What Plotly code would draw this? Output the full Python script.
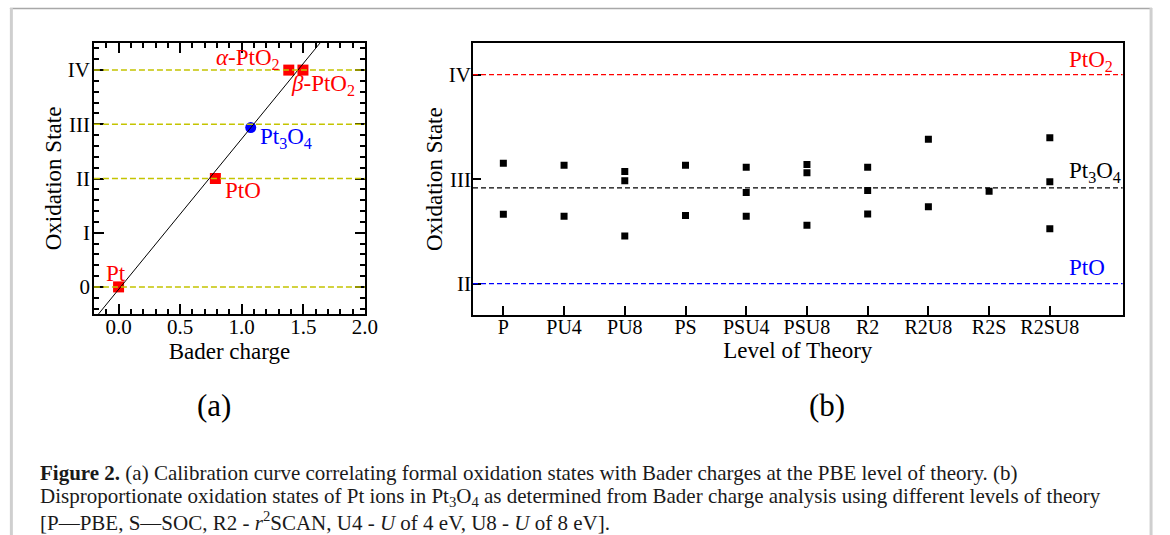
import plotly.graph_objects as go

W, H = 1170, 535
SERIF = "Liberation Serif, Times New Roman, serif"

# ---------------- data: panel (a) ----------------
ref_names = ["Pt", "PtO", "α-PtO2", "β-PtO2"]
ref_bader = [0.0, 0.786, 1.382, 1.497]
ref_ox = [0, 2, 4, 4]
pt3o4_bader = [1.073]
pt3o4_ox = [2.94]
fit_x = [-0.2, 1.7]
fit_y = [-0.603, 4.679]
ref_levels = [0, 2, 3, 4]
ox_ticks = [0, 1, 2, 3, 4]
ox_labels = ["0", "I", "II", "III", "IV"]

# ---------------- data: panel (b) ----------------
theory_levels = ["P", "PU4", "PU8", "PS", "PSU4", "PSU8", "R2", "R2U8", "R2S", "R2SU8"]
pt_ion_states = [
    [3.153, 2.663],
    [3.134, 2.644],
    [3.074, 2.985, 2.456],
    [3.134, 2.653],
    [3.115, 2.873, 2.644],
    [3.140, 3.061, 2.558],
    [3.115, 2.892, 2.666],
    [3.382, 2.736],
    [2.885],
    [3.395, 2.975, 2.526],
]
b_levels = [4.0, 2.917, 2.0]
b_level_names = ["PtO<sub>2</sub>", "Pt<sub>3</sub>O<sub>4</sub>", "PtO"]
b_level_colors = ["#ff0000", "#000000", "#0000ff"]
b_ticks = [2, 3, 4]
b_tick_labels = ["II", "III", "IV"]

caption_lines = [
    "<b>Figure 2.</b> (a) Calibration curve correlating formal oxidation states with Bader charges at the PBE level of theory. (b)",
    "Disproportionate oxidation states of Pt ions in Pt<sub>3</sub>O<sub>4</sub> as determined from Bader charge analysis using different levels of theory",
    "[P—PBE, S—SOC, R2 - <i>r</i><sup>2</sup>SCAN, U4 - <i>U</i> of 4 eV, U8 - <i>U</i> of 8 eV].",
]


def px(x):
    return x / W


def py(y):
    return 1 - y / H


fig = go.Figure()

# panel (a) markers
fig.add_trace(go.Scatter(x=ref_bader, y=ref_ox, mode="markers", xaxis="x", yaxis="y",
                         marker=dict(symbol="square", size=11, color="#ff0000"),
                         showlegend=False, hoverinfo="skip"))
fig.add_trace(go.Scatter(x=pt3o4_bader, y=pt3o4_ox, mode="markers", xaxis="x", yaxis="y",
                         marker=dict(symbol="circle", size=11, color="#0000ff"),
                         showlegend=False, hoverinfo="skip"))
fig.add_trace(go.Scatter(x=fit_x, y=fit_y, mode="lines", xaxis="x", yaxis="y",
                         line=dict(color="black", width=1), showlegend=False, hoverinfo="skip"))

# panel (b) markers
bx, by = [], []
for lvl, vals in zip(theory_levels, pt_ion_states):
    for v in vals:
        bx.append(lvl)
        by.append(v)
fig.add_trace(go.Scatter(x=bx, y=by, mode="markers", xaxis="x2", yaxis="y2",
                         marker=dict(symbol="square", size=7, color="black"),
                         showlegend=False, hoverinfo="skip"))

shapes = []
for lv in ref_levels:
    shapes.append(dict(type="line", xref="x domain", yref="y", x0=0, x1=1, y0=lv, y1=lv,
                       line=dict(color="#c4c400", width=1.5, dash="6px,3px")))
for lv, c in zip(b_levels, b_level_colors):
    shapes.append(dict(type="line", xref="x2 domain", yref="y2", x0=0, x1=1, y0=lv, y1=lv,
                       line=dict(color=c, width=1.3, dash="5px,3px")))
# outer figure frame
shapes.append(dict(type="line", xref="paper", yref="paper", x0=px(10), x1=px(1165), y0=py(8.5), y1=py(8.5),
                   line=dict(color="#a8a8a8", width=1.5)))
shapes.append(dict(type="line", xref="paper", yref="paper", x0=px(11.5), x1=px(11.5), y0=py(8), y1=py(540),
                   line=dict(color="#cfcfcf", width=3)))
shapes.append(dict(type="line", xref="paper", yref="paper", x0=px(1164), x1=px(1164), y0=py(8), y1=py(540),
                   line=dict(color="#cfcfcf", width=3)))

ann = []
red = "#ff0000"
lab_font = dict(family=SERIF, size=23)
# panel (a) labels
ann.append(dict(x=ref_bader[2], y=ref_ox[2], xref="x", yref="y", text="<i>α</i>-PtO<sub>2</sub>",
                xanchor="right", yanchor="middle", xshift=-7, yshift=11, showarrow=False,
                font=dict(lab_font, color=red)))
ann.append(dict(x=ref_bader[3], y=ref_ox[3], xref="x", yref="y", text="<i>β</i>-PtO<sub>2</sub>",
                xanchor="left", yanchor="middle", xshift=-14, yshift=-15, showarrow=False,
                font=dict(lab_font, color=red)))
ann.append(dict(x=pt3o4_bader[0], y=pt3o4_ox[0], xref="x", yref="y", text="Pt<sub>3</sub>O<sub>4</sub>",
                xanchor="left", yanchor="middle", xshift=7, yshift=-10, showarrow=False,
                font=dict(lab_font, color="#0000ff")))
ann.append(dict(x=ref_bader[1], y=ref_ox[1], xref="x", yref="y", text="PtO",
                xanchor="left", yanchor="middle", xshift=8, yshift=-12, showarrow=False,
                font=dict(lab_font, color=red)))
ann.append(dict(x=ref_bader[0], y=ref_ox[0], xref="x", yref="y", text="Pt",
                xanchor="center", yanchor="middle", xshift=-3, yshift=13, showarrow=False,
                font=dict(lab_font, color=red)))
# panel (b) labels
b_shifts = [-2, 0, 2]
for lv, name, c, s in zip(b_levels, b_level_names, b_level_colors, b_shifts):
    ann.append(dict(x=px(1079), y=lv, xref="paper", yref="y2", text=name,
                    xanchor="left", yanchor="bottom", yshift=s, showarrow=False,
                    font=dict(lab_font, color=c)))
# panel letters
ann.append(dict(x=px(216), y=py(405), xref="paper", yref="paper", text="(a)", showarrow=False,
                xanchor="center", yanchor="middle", font=dict(family=SERIF, size=31, color="black")))
ann.append(dict(x=px(836), y=py(405), xref="paper", yref="paper", text="(b)", showarrow=False,
                xanchor="center", yanchor="middle", font=dict(family=SERIF, size=31, color="black")))
# caption
for i, line in enumerate(caption_lines):
    ann.append(dict(x=px(38), y=py(473 + 24 * i), xref="paper", yref="paper", text=line,
                    showarrow=False, xanchor="left", yanchor="middle",
                    font=dict(family=SERIF, size=21, color="#1a1a1a")))

tick_font = dict(family=SERIF, size=21, color="black")
title_font = dict(family=SERIF, size=23, color="black")

fig.update_layout(
    width=W, height=H, margin=dict(l=0, r=0, t=0, b=0),
    paper_bgcolor="white", plot_bgcolor="white",
    showlegend=False,
    font=dict(family=SERIF, color="black"),
    shapes=shapes, annotations=ann,
    xaxis=dict(domain=[px(95), px(369)], range=[-0.2, 2.0], anchor="y",
               tickvals=[0, 0.5, 1.0, 1.5, 2.0], ticktext=["0.0", "0.5", "1.0", "1.5", "2.0"],
               ticks="inside", ticklen=10, tickwidth=1.5, tickcolor="black",
               minor=dict(dtick=0.1, tick0=0, ticks="inside", ticklen=5, tickwidth=1.5, tickcolor="black", showgrid=False),
               showline=True, linecolor="black", linewidth=1.5, mirror="ticks",
               showgrid=False, zeroline=False, tickfont=tick_font, ticklabelstandoff=-7,
               title=dict(text="Bader charge", font=title_font, standoff=0)),
    yaxis=dict(domain=[py(314), py(43)], range=[-0.5, 4.5], anchor="x",
               tickvals=ox_ticks, ticktext=ox_labels,
               ticks="inside", ticklen=10, tickwidth=1.5, tickcolor="black",
               minor=dict(dtick=0.2, tick0=0, ticks="inside", ticklen=5, tickwidth=1.5, tickcolor="black", showgrid=False),
               showline=True, linecolor="black", linewidth=1.5, mirror="ticks",
               showgrid=False, zeroline=False, tickfont=tick_font, ticklabelstandoff=-2,
               title=dict(text="Oxidation State", font=title_font, standoff=0)),
    xaxis2=dict(domain=[px(478.3), px(1135.3)], anchor="y2", type="category",
                categoryorder="array", categoryarray=theory_levels,
                range=[-0.5, 10.2],
                ticks="inside", ticklen=9, tickwidth=2, tickcolor="black",
                showline=True, linecolor="black", linewidth=1.5, mirror=True,
                showgrid=False, zeroline=False, tickfont=dict(family=SERIF, size=20, color="black"),
                ticklabelstandoff=-7,
                title=dict(text="Level of Theory", font=title_font, standoff=0)),
    yaxis2=dict(domain=[py(315), py(43.3)], range=[1.7, 4.3], anchor="x2",
                tickvals=b_ticks, ticktext=b_tick_labels,
                ticks="inside", ticklen=8, tickwidth=2, tickcolor="black",
                showline=True, linecolor="black", linewidth=1.5, mirror=True,
                showgrid=False, zeroline=False, tickfont=tick_font, ticklabelstandoff=-4,
                title=dict(text="Oxidation State", font=title_font, standoff=0)),
)

fig.write_html("out.html")
